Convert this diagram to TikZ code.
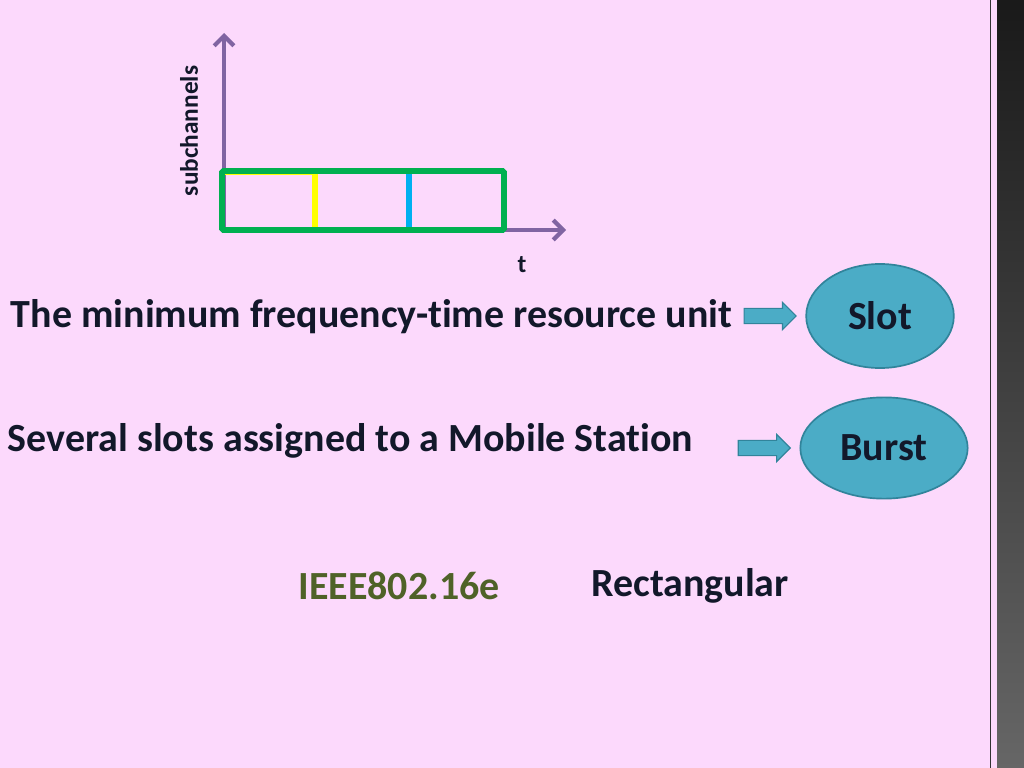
\documentclass[tikz,border=0pt]{standalone}
\usepackage{fontspec}
\setmainfont{Carlito}[Ligatures=NoCommon, Contextuals=NoAlternate]
\usetikzlibrary{shapes.geometric,shapes.arrows,positioning,arrows.meta}

\definecolor{slidepink}{RGB}{252,217,252}
\definecolor{axispurple}{RGB}{128,100,162}
\definecolor{gridgreen}{RGB}{0,176,80}
\definecolor{slotyellow}{RGB}{255,255,0}
\definecolor{slotblue}{RGB}{0,176,240}
\definecolor{bubblefill}{RGB}{75,172,198}
\definecolor{bubbleedge}{RGB}{49,132,155}
\definecolor{textdark}{RGB}{18,24,42}
\definecolor{oliveText}{RGB}{79,98,40}

\tikzset{
  bigtext/.style={font=\fontsize{28.4}{33}\selectfont\bfseries, text=textdark},
  smalltext/.style={font=\fontsize{18}{21}\selectfont\bfseries, text=textdark},
  bubble/.style={ellipse, draw=bubbleedge, fill=bubblefill, line width=1.2pt,
    font=\fontsize{28.4}{33}\selectfont\bfseries, text=textdark},
  blockarrow/.style={single arrow, draw=bubbleedge, fill=bubblefill, line width=0.8pt,
    minimum width=18.5pt, single arrow head extend=4.3pt, minimum height=37pt,
    inner xsep=0pt, inner ysep=5pt},
  axisline/.style={axispurple, line width=3pt, -{Straight Barb[length=7pt,width=14pt]}},
}

\begin{document}
\begin{tikzpicture}[x=0.025cm, y=-0.025cm]

% Draw Background

\fill[slidepink] (0,0) rectangle (1024,768);
\useasboundingbox (0,0) rectangle (1024,768);

% Draw right border strip

\shade[top color=black!90, bottom color=black!60] (997,0) rectangle (1024,768);
\draw[black!80, line width=0.8pt] (990.5,0) -- (990.5,768);

% Draw Axis

\coordinate (origin) at (224,230);
\coordinate (ytop) at (224,33);
\coordinate (xend) at (566,230);
\draw[axisline] (origin) -- (ytop);
\draw[axisline] (origin) -- (xend);

\node[rotate=90, smalltext] (ylabel) at (189,131) {subchannels};
\node[smalltext] (xlabel) at (522,265) {t};

% Draw Slots

\draw[slotyellow, line width=1.2pt] (225,174) -- (315,174);
\draw[slotyellow, line width=3.8pt] (315,173) -- (315,228);
\draw[slotblue, line width=3.8pt] (409,173) -- (409,228);
\draw[gridgreen, line width=4pt, rounded corners=1pt] (222,171) rectangle (504,230);

% Draw Labels

\node[bigtext, anchor=west] (minunit) at (6,317) {The minimum frequency-time resource unit};
\node[bigtext, anchor=west] (several) at (3,441) {Several slots assigned to a Mobile Station};

% Draw Ellipses

\node[bubble, minimum width=105pt, minimum height=74pt] (slot) at (880,316) {Slot};
\node[bubble, minimum width=119pt, minimum height=72pt] (burst) at (884,448) {Burst};

% Draw Arrows

\node[blockarrow, left=6pt of slot] (arrslot) {};
\node[blockarrow, left=6pt of burst] (arrburst) {};

% Draw bottom words

\node[font=\fontsize{28.4}{33}\selectfont\bfseries, text=oliveText] (standard) at (399,586) {IEEE802.16e};
\node[bigtext] (shape) at (690,586) {Rectangular};

\end{tikzpicture}
\end{document}
